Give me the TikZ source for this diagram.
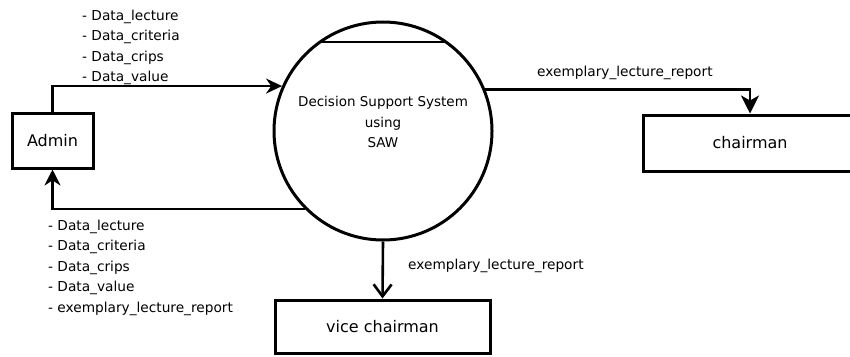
\documentclass[tikz,border=0pt]{standalone}
\usepackage{fontspec}
\setmainfont{DejaVu Sans}
\usetikzlibrary{arrows.meta,calc}
\begin{document}
\begin{tikzpicture}[x=1pt,y=-1pt,
  flow/.style={line width=2.6pt},
  entity/.style={draw, line width=3pt, inner sep=0pt, font=\fontsize{16}{19}\selectfont},
  lbl/.style={inner sep=0pt, align=left, font=\fontsize{13.7}{20.5}\selectfont},
  proc/.style={circle, draw, line width=3pt, minimum size=218pt, inner sep=0pt},
]
\useasboundingbox[fill=white] (0,0) rectangle (850,356);
\node[proc] (dss) at (383,131) {};
\node[align=center, inner sep=0pt, font=\fontsize{13.5}{20.5}\selectfont] (dsstext) at ([yshift=9pt]dss.center) {Decision Support System\\using\\SAW};
\draw[line width=2.8pt] ($(dss.center)+(-63,-89)$) -- ($(dss.center)+(63,-89)$);
\node[entity, minimum width=81pt, minimum height=55pt] (admin) at (52.5,140.5) {Admin};
\node[entity, minimum width=214pt, minimum height=56pt] (chairman) at (750,143) {chairman};
\node[entity, minimum width=215pt, minimum height=53pt] (vice) at (382.5,326.5) {vice chairman};
\draw[flow, -{Stealth[length=16pt,width=15pt]}] (admin.north) |- (dss.156.8);
\draw[flow, -{Stealth[length=16pt,width=16pt]}] (dss.225) -| (admin.south);
\draw[flow, -{Stealth[length=18pt,width=18pt,inset=5pt]}] (dss.22.1) -| (chairman.north);
\draw[flow, -{Straight Barb[length=12pt,width=18pt]}] (dss.south) -- (vice.north);
\node[lbl, anchor=north west] (inlbl) at (82,9.6) {- Data\_lecture\\- Data\_criteria\\- Data\_crips\\- Data\_value};
\node[lbl, anchor=north west] (outlbl) at (48,219.6) {- Data\_lecture\\- Data\_criteria\\- Data\_crips\\- Data\_value\\- exemplary\_lecture\_report};
\node[lbl, anchor=base west] (chlbl) at (537,76) {exemplary\_lecture\_report};
\node[lbl, anchor=base west] (vclbl) at (408,269) {exemplary\_lecture\_report};
\end{tikzpicture}
\end{document}
